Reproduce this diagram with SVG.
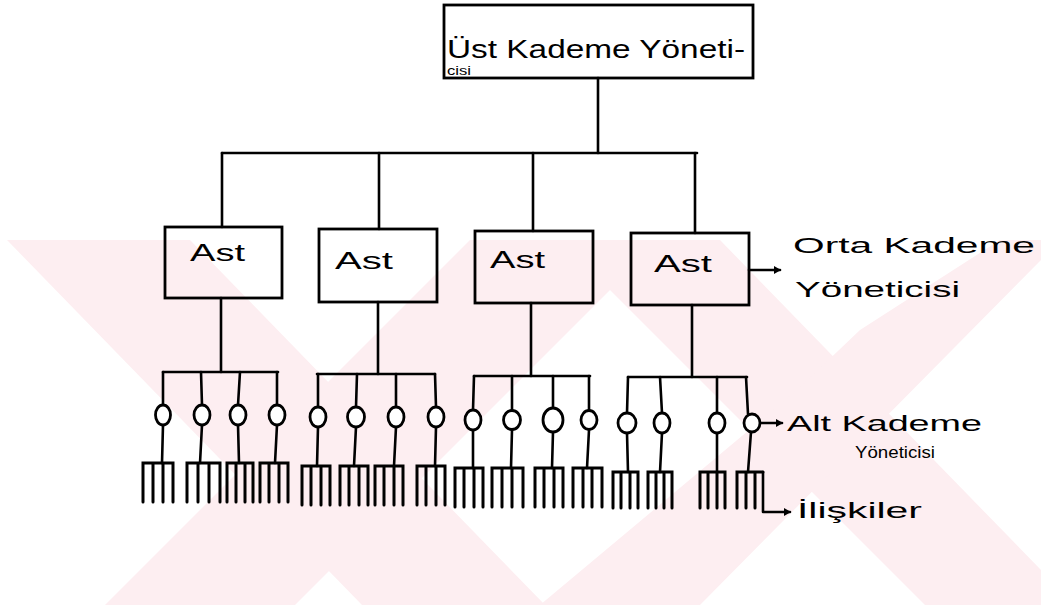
<svg xmlns="http://www.w3.org/2000/svg" width="1041" height="608" viewBox="0 0 1041 608">
<style>
.ln{stroke:#000;stroke-width:2.6;fill:none;stroke-linecap:round;stroke-linejoin:round}
.bx{stroke:#000;stroke-width:2.8;fill:none}
.cc{stroke:#000;stroke-width:2.8;fill:#fff}
.tn{stroke:#000;stroke-width:3;fill:none;stroke-linecap:round}
.t{font-family:"Liberation Sans","DejaVu Sans",sans-serif;fill:#000}
.wm{fill:#fdeef1}
</style>
<defs>
<marker id="ah" markerWidth="8" markerHeight="8" refX="6" refY="4" orient="auto" markerUnits="userSpaceOnUse">
<path d="M0,0 L7,4 L0,8 Z" fill="#000"/>
</marker>
</defs>
<rect width="1041" height="608" fill="#fff"/>
<g id="watermark">
<polygon class="wm" points="7,240 190,240 545,605 362,605"/>
<polygon class="wm" points="470,240 660,240 295,605 105,605"/>
<polygon class="wm" points="560,240 720,240 1041,570 1041,605 925,605"/>
<polygon class="wm" points="797,390 860,330 1000,240 1041,240 1041,260 700,605 540,605"/>
</g>
<g id="connectors">
<line class="ln" x1="598" y1="78" x2="598" y2="153"/>
<line class="ln" x1="222" y1="153" x2="697" y2="153"/>
<line class="ln" x1="222" y1="153" x2="222" y2="227"/>
<line class="ln" x1="379" y1="153" x2="379" y2="229"/>
<line class="ln" x1="533" y1="153" x2="533" y2="231"/>
<line class="ln" x1="695" y1="153" x2="695" y2="233"/>
<line class="ln" x1="221" y1="298" x2="221" y2="372"/>
<line class="ln" x1="378" y1="302" x2="378" y2="374"/>
<line class="ln" x1="531" y1="303" x2="531" y2="376"/>
<line class="ln" x1="692" y1="305" x2="692" y2="377"/>
<line class="ln" x1="163" y1="372" x2="278" y2="372"/>
<line class="ln" x1="317" y1="374" x2="435" y2="374"/>
<line class="ln" x1="474" y1="376" x2="590" y2="376"/>
<line class="ln" x1="628" y1="377" x2="747" y2="377"/>
<line class="ln" x1="749" y1="270" x2="780" y2="270" marker-end="url(#ah)"/>
<line class="ln" x1="761" y1="423" x2="782" y2="423" marker-end="url(#ah)"/>
<polyline class="ln" points="763,472 763,512 790,512" marker-end="url(#ah)"/>
</g>
<g id="node-top">
<rect class="bx" x="444" y="5" width="309" height="73"/>
<text class="t" x="447" y="58" font-size="26" textLength="298" lengthAdjust="spacingAndGlyphs">Üst Kademe Yöneti-</text>
<text class="t" x="447" y="75" font-size="13" textLength="24" lengthAdjust="spacingAndGlyphs">cisi</text>
</g>
<g id="node-ast1"><rect class="bx" x="165" y="227" width="117" height="71"/><text class="t" x="190" y="261" font-size="24" textLength="55" lengthAdjust="spacingAndGlyphs">Ast</text></g>
<g id="node-ast2"><rect class="bx" x="319" y="229" width="118" height="73"/><text class="t" x="335" y="269" font-size="24" textLength="58" lengthAdjust="spacingAndGlyphs">Ast</text></g>
<g id="node-ast3"><rect class="bx" x="475" y="231" width="118" height="72"/><text class="t" x="490" y="268" font-size="24" textLength="55" lengthAdjust="spacingAndGlyphs">Ast</text></g>
<g id="node-ast4"><rect class="bx" x="631" y="233" width="118" height="72"/><text class="t" x="654" y="272" font-size="24" textLength="58" lengthAdjust="spacingAndGlyphs">Ast</text></g>
<g id="label-orta">
<text class="t" x="793" y="253" font-size="22" textLength="242" lengthAdjust="spacingAndGlyphs">Orta Kademe</text>
<text class="t" x="795" y="297" font-size="22" textLength="165" lengthAdjust="spacingAndGlyphs">Yöneticisi</text>
</g>
<g id="label-alt">
<text class="t" x="787" y="431" font-size="22" textLength="195" lengthAdjust="spacingAndGlyphs">Alt Kademe</text>
<text class="t" x="855" y="458" font-size="16" textLength="80" lengthAdjust="spacingAndGlyphs">Yöneticisi</text>
</g>
<g id="label-iliskiler">
<text class="t" x="797" y="518" font-size="22" textLength="125" lengthAdjust="spacingAndGlyphs">İlişkiler</text>
</g>
<g id="group1">
<line class="ln" x1="163" y1="372" x2="163" y2="405"/><line class="ln" x1="201" y1="372" x2="202" y2="405"/><line class="ln" x1="240" y1="372" x2="238" y2="405"/><line class="ln" x1="277" y1="372" x2="277" y2="405"/>
<line class="ln" x1="163" y1="425" x2="162" y2="463"/><line class="ln" x1="202" y1="425" x2="200" y2="463"/><line class="ln" x1="238" y1="425" x2="239" y2="463"/><line class="ln" x1="277" y1="425" x2="275" y2="463"/>
<ellipse class="cc" cx="163" cy="415" rx="7.5" ry="10"/><ellipse class="cc" cx="202" cy="415" rx="8" ry="10"/><ellipse class="cc" cx="238" cy="415" rx="8" ry="10"/><ellipse class="cc" cx="277" cy="415" rx="8" ry="10"/>
<path class="tn" d="M143,502V463H173V502M153,463V502M163,463V502"/>
<path class="tn" d="M187,502V463H220V502M198,463V502M209,463V502"/>
<path class="tn" d="M227,502V463H253V502M236,463V502M245,463V502"/>
<path class="tn" d="M260,502V463H288V502M269,463V502M279,463V502"/>
</g>
<g id="group2">
<line class="ln" x1="318" y1="374" x2="318" y2="407"/><line class="ln" x1="357" y1="374" x2="356" y2="407"/><line class="ln" x1="396" y1="374" x2="396" y2="407"/><line class="ln" x1="435" y1="374" x2="436" y2="407"/>
<line class="ln" x1="318" y1="427" x2="317" y2="466"/><line class="ln" x1="356" y1="427" x2="354" y2="466"/><line class="ln" x1="396" y1="427" x2="394" y2="466"/><line class="ln" x1="436" y1="427" x2="435" y2="466"/>
<ellipse class="cc" cx="318" cy="417" rx="8" ry="10"/><ellipse class="cc" cx="356" cy="417" rx="8.5" ry="10"/><ellipse class="cc" cx="396" cy="417" rx="8" ry="10"/><ellipse class="cc" cx="436" cy="417" rx="8" ry="10"/>
<path class="tn" d="M302,505V466H330V505M311,466V505M321,466V505"/>
<path class="tn" d="M340,505V466H368V505M349,466V505M359,466V505"/>
<path class="tn" d="M375,505V466H403V505M384,466V505M394,466V505"/>
<path class="tn" d="M417,505V466H445V505M426,466V505M436,466V505"/>
</g>
<g id="group3">
<line class="ln" x1="474" y1="376" x2="473" y2="410"/><line class="ln" x1="512" y1="376" x2="512" y2="410"/><line class="ln" x1="553" y1="376" x2="553" y2="408"/><line class="ln" x1="589" y1="376" x2="589" y2="410"/>
<line class="ln" x1="473" y1="430" x2="473" y2="468"/><line class="ln" x1="512" y1="430" x2="511" y2="468"/><line class="ln" x1="553" y1="432" x2="552" y2="468"/><line class="ln" x1="589" y1="430" x2="587" y2="468"/>
<ellipse class="cc" cx="473" cy="420" rx="8" ry="10"/><ellipse class="cc" cx="512" cy="420" rx="8.5" ry="9.5"/><ellipse class="cc" cx="553" cy="420" rx="10" ry="12"/><ellipse class="cc" cx="589" cy="420" rx="8" ry="9.5"/>
<path class="tn" d="M455,507V468H483V507M464,468V507M474,468V507"/>
<path class="tn" d="M492,507V468H523V507M502,468V507M512,468V507"/>
<path class="tn" d="M535,507V468H563V507M544,468V507M554,468V507"/>
<path class="tn" d="M573,507V468H602V507M583,468V507M592,468V507"/>
</g>
<g id="group4">
<line class="ln" x1="628" y1="377" x2="627" y2="413"/><line class="ln" x1="660" y1="377" x2="662" y2="413"/><line class="ln" x1="717" y1="377" x2="717" y2="413"/><line class="ln" x1="746" y1="377" x2="748" y2="414"/>
<line class="ln" x1="627" y1="433" x2="628" y2="472"/><line class="ln" x1="662" y1="433" x2="660" y2="472"/><line class="ln" x1="717" y1="433" x2="717" y2="472"/><line class="ln" x1="751" y1="432" x2="748" y2="472"/>
<ellipse class="cc" cx="627" cy="423" rx="9" ry="10"/><ellipse class="cc" cx="662" cy="423" rx="8" ry="10"/><ellipse class="cc" cx="717" cy="423" rx="8" ry="10"/><ellipse class="cc" cx="752" cy="423" rx="8" ry="9"/>
<path class="tn" d="M613,508V472H638V508M621,472V508M630,472V508"/>
<path class="tn" d="M648,508V472H672V508M656,472V508M664,472V508"/>
<path class="tn" d="M700,508V472H725V508M708,472V508M717,472V508"/>
<path class="tn" d="M737,508V472H763M746,472V508M755,472V508"/>
</g>
</svg>
